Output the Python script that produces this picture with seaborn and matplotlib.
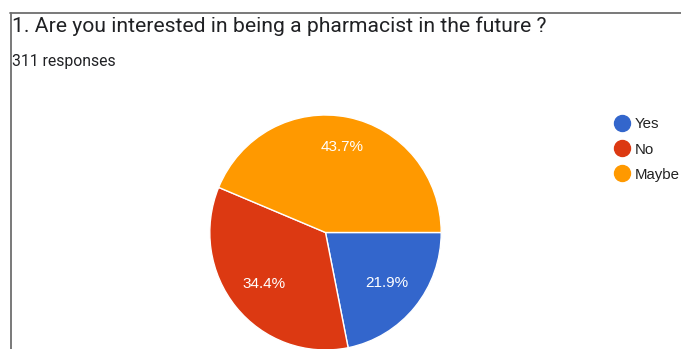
import matplotlib
matplotlib.use("Agg")
import matplotlib.pyplot as plt
from matplotlib.lines import Line2D
import numpy as np
import seaborn as sns
import pandas as pd

# Survey answers
answers = ["Yes", "No", "Maybe"]
counts = [68, 107, 136]
colors = ["#3366CC", "#DC3912", "#FF9900"]
title = "1. Are you interested in being a pharmacist in the future ?"
subtitle = "311 responses"

df = pd.DataFrame({"answer": answers, "count": counts})

sns.set_theme(style="white")
plt.rcParams["font.family"] = ["Liberation Sans", "DejaVu Sans"]

W, H = 681, 349
fig = plt.figure(figsize=(W / 100, H / 100), dpi=100)
fig.patch.set_facecolor("white")

# frame lines along the top and left
fig.add_artist(Line2D([10 / W, 1], [1 - 12.5 / H] * 2, color="#6e6e6e", lw=1.3))
fig.add_artist(Line2D([10.5 / W] * 2, [0, 1 - 12.5 / H], color="#6e6e6e", lw=1.3))

fig.text(12 / W, 1 - 32 / H, title, fontsize=15.2, color="#202124",
         family=["Roboto", "DejaVu Sans"], va="baseline", ha="left")
fig.text(12 / W, 1 - 66 / H, subtitle, fontsize=11.3, color="#202124",
         family=["Roboto", "DejaVu Sans"], va="baseline", ha="left")

# pie axes: centre (325.5, 232.5) px, radii 115.7 x 117.5 px
cx, cy, rx, ry = 325.5, 232.5, 115.7, 117.5
ax = fig.add_axes([(cx - rx) / W, (H - cy - ry) / H, 2 * rx / W, 2 * ry / H])
wedges, texts, autotexts = ax.pie(
    df["count"], colors=colors, startangle=0, counterclock=False,
    autopct="%1.1f%%", pctdistance=0.7,
    wedgeprops=dict(edgecolor="white", linewidth=1),
    textprops=dict(color="white", fontsize=11),
)
# percentage labels sit a little further out in the largest slice
label_dist = [0.68, 0.69, 0.745]
for w, t, d in zip(wedges, autotexts, label_dist):
    theta = np.deg2rad((w.theta1 + w.theta2) / 2)
    t.set_position((d * np.cos(theta), d * np.sin(theta)))
    t.set_va("center")
ax.set_xlim(-1, 1)
ax.set_ylim(-1, 1)
ax.set_aspect("auto")
ax.axis("off")

# legend: coloured dots with labels, one row per answer
for i, (name, c) in enumerate(zip(df["answer"], colors)):
    y = 1 - (123 + 25 * i) / H
    fig.add_artist(Line2D([622 / W], [y], marker="o", linestyle="none",
                          markersize=11.5, markerfacecolor=c, markeredgecolor=c))
    fig.text(635 / W, y, name, fontsize=10.8, color="#222222",
             va="center_baseline", ha="left")

fig.savefig("out.png", dpi=100)
